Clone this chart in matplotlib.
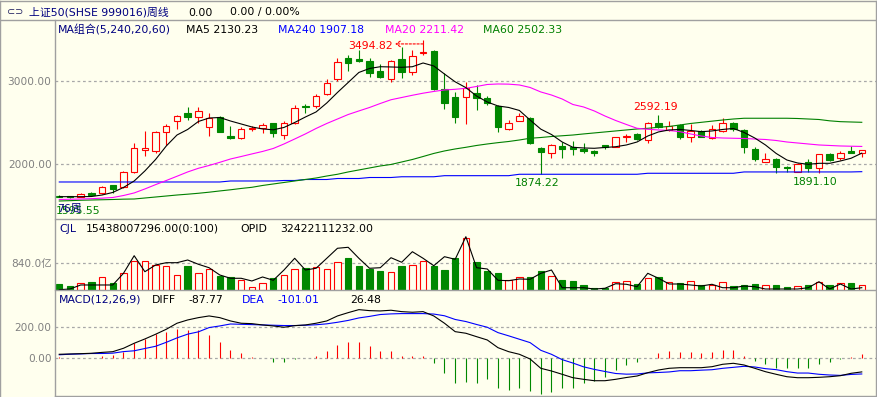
import numpy as np
import matplotlib.pyplot as plt
from matplotlib.patches import Rectangle
from matplotlib.lines import Line2D
from matplotlib.transforms import offset_copy

plt.rcParams['font.family'] = ['DejaVu Sans', 'Noto Sans CJK SC']

# weekly candles, 76 weeks
opens = [1618, 1612, 1602, 1647, 1654, 1743, 1719, 1907, 2169, 2160,
         2382, 2522, 2611, 2563, 2442, 2570, 2337, 2310, 2418, 2437,
         2490, 2349, 2498, 2699, 2699, 2844, 3024, 3274, 3265, 3245,
         3121, 3024, 3262, 3112, 3334, 3365, 2900, 2804, 2804, 2859,
         2792, 2699, 2422, 2522, 2551, 2193, 2129, 2217, 2208, 2184,
         2160, 2225, 2208, 2322, 2358, 2289, 2490, 2410, 2470, 2329,
         2398, 2310, 2401, 2490, 2410, 2181, 2028, 2060, 1967, 1907,
         2020, 1948, 2121, 2069, 2157, 2136]
highs = [1630, 1618, 1654, 1659, 1735, 1747, 1916, 2249, 2398, 2401,
         2482, 2590, 2690, 2683, 2611, 2582, 2458, 2449, 2458, 2490,
         2498, 2522, 2711, 2723, 2840, 3021, 3274, 3313, 3374, 3274,
         3201, 3253, 3406, 3374, 3494.82, 3374, 3093, 2871, 2992, 2952,
         2819, 2711, 2530, 2611, 2563, 2208, 2240, 2269, 2277, 2249,
         2169, 2230, 2329, 2362, 2370, 2510, 2592.19, 2518, 2478, 2478,
         2410, 2470, 2551, 2506, 2418, 2201, 2129, 2069, 1980, 2016,
         2060, 2120, 2136, 2157, 2217, 2168]
lows = [1598, 1595.55, 1598, 1614, 1638, 1654, 1707, 1895, 2096, 2129,
        2225, 2422, 2530, 2490, 2337, 2385, 2301, 2305, 2401, 2377,
        2329, 2305, 2482, 2618, 2671, 2831, 3000, 3124, 3233, 3045,
        3040, 2992, 3033, 3072, 3313, 2892, 2663, 2498, 2482, 2651,
        2711, 2389, 2410, 2518, 2241, 1874.22, 2069, 2076, 2108, 2136,
        2096, 2181, 2205, 2261, 2289, 2257, 2430, 2401, 2301, 2269,
        2322, 2301, 2389, 2401, 2136, 2040, 2020, 1895, 1907, 1900,
        1907, 1891.10, 2040, 2048, 2129, 2088]
closes = [1602, 1600, 1638, 1630, 1719, 1702, 1900, 2189, 2189, 2382,
          2462, 2578, 2563, 2642, 2558, 2389, 2310, 2418, 2437, 2466,
          2370, 2490, 2671, 2683, 2819, 2980, 3233, 3221, 3245, 3100,
          3052, 3245, 3105, 3305, 3353, 2900, 2731, 2570, 2912, 2799,
          2731, 2449, 2498, 2578, 2249, 2148, 2233, 2184, 2184, 2153,
          2129, 2208, 2322, 2337, 2301, 2490, 2442, 2462, 2329, 2398,
          2329, 2418, 2490, 2418, 2208, 2057, 2057, 1960, 1952, 2000,
          1948, 2117, 2048, 2129, 2136, 2165]

ma5 = [1606, 1606, 1606, 1608, 1626, 1657, 1717, 1795, 1916, 2054,
       2217, 2349, 2416, 2512, 2554, 2560, 2518, 2482, 2446, 2422,
       2412, 2440, 2500, 2566, 2627, 2735, 2862, 2982, 3103, 3151,
       3172, 3169, 3165, 3172, 3217, 3181, 3084, 2990, 2920, 2819,
       2747, 2699, 2681, 2645, 2530, 2420, 2355, 2265, 2201, 2193,
       2189, 2199, 2208, 2229, 2265, 2337, 2386, 2410, 2416, 2404,
       2389, 2398, 2416, 2428, 2380, 2313, 2229, 2127, 2048, 2012,
       1996, 2008, 2008, 2036, 2069, 2130.23]
ma20 = [1572, 1575, 1578, 1582, 1588, 1596, 1620, 1651, 1699, 1751,
        1801, 1852, 1904, 1948, 1982, 2020, 2060, 2090, 2121, 2151,
        2187, 2241, 2301, 2362, 2428, 2488, 2542, 2596, 2639, 2681,
        2729, 2774, 2801, 2828, 2853, 2874, 2892, 2900, 2912, 2934,
        2958, 2964, 2962, 2952, 2922, 2868, 2831, 2783, 2717, 2687,
        2639, 2578, 2524, 2476, 2430, 2418, 2410, 2404, 2389, 2362,
        2337, 2319, 2313, 2310, 2307, 2301, 2295, 2283, 2265, 2253,
        2241, 2229, 2223, 2217, 2214, 2211.42]
ma60 = [1554, 1558, 1563, 1566, 1569, 1572, 1576, 1578, 1590, 1602,
        1614, 1626, 1636, 1647, 1660, 1675, 1689, 1705, 1719, 1741,
        1759, 1777, 1795, 1813, 1831, 1855, 1876, 1904, 1928, 1952,
        1976, 1994, 2024, 2054, 2090, 2127, 2157, 2181, 2201, 2223,
        2241, 2257, 2271, 2289, 2310, 2319, 2331, 2340, 2349, 2362,
        2374, 2386, 2398, 2410, 2422, 2430, 2442, 2452, 2470, 2488,
        2502, 2516, 2530, 2542, 2551, 2551, 2551, 2551, 2551, 2548,
        2542, 2536, 2520, 2510, 2506, 2502.33]
ma240 = [1783, 1783, 1783, 1783, 1783, 1783, 1783, 1783, 1783, 1783,
         1783, 1783, 1783, 1783, 1783, 1783, 1795, 1795, 1795, 1795,
         1795, 1801, 1801, 1813, 1813, 1813, 1825, 1825, 1825, 1837,
         1837, 1837, 1846, 1846, 1846, 1846, 1859, 1859, 1859, 1859,
         1859, 1859, 1859, 1876, 1876, 1876, 1876, 1876, 1876, 1876,
         1876, 1876, 1876, 1876, 1876, 1888, 1888, 1888, 1888, 1888,
         1888, 1888, 1888, 1888, 1904, 1904, 1904, 1904, 1904, 1904,
         1904, 1904, 1904, 1904, 1904, 1907.18]

# volume in 亿, plus the OPID line drawn over it
volume = [189, 126, 220, 252, 410, 220, 536, 924, 914, 798,
          756, 473, 756, 536, 672, 441, 410, 315, 95, 220,
          378, 473, 662, 693, 725, 662, 882, 1008, 756, 672,
          599, 567, 756, 788, 914, 756, 630, 1008, 1628, 882,
          599, 536, 305, 399, 410, 599, 441, 315, 284, 158,
          63, 63, 242, 273, 189, 378, 410, 242, 220, 273,
          158, 158, 242, 126, 158, 189, 158, 158, 95, 126,
          158, 242, 158, 220, 220, 154.38]
opid = [10, 31, 158, 158, 158, 158, 526, 1080, 576, 788,
        860, 860, 945, 810, 702, 473, 369, 369, 284, 410,
        306, 630, 999, 630, 684, 999, 1314, 1345, 999, 684,
        702, 1017, 873, 1206, 999, 765, 1049, 967, 1679, 702,
        662, 306, 293, 347, 337, 526, 630, 72, 72, 72,
        31, 54, 198, 180, 104, 526, 369, 189, 189, 158,
        126, 180, 72, 72, 126, 104, 31, 31, 31, 31,
        72, 261, 31, 189, 31, 72]

diff = [25.8, 27.7, 29.7, 32.3, 38, 42.6, 64.5, 96.8, 124.5, 154.8,
        187, 225.8, 247, 261.9, 272.8, 261.9, 240.6, 225.8, 223.2, 214.8,
        208.3, 200, 210.3, 214.8, 225.8, 240.6, 272.8, 294.1, 313.5, 307,
        305, 309.6, 300.6, 296.7, 300.6, 272.8, 225.8, 171.6, 161.3, 139.3,
        118, 68.4, 42.6, 25.8, -4.5, -64.5, -81.9, -103.2, -125.1, -135.5,
        -144.5, -144.5, -135.5, -123.8, -114.2, -92.9, -75.5, -64.5, -60.6, -60.6,
        -60.6, -54.2, -38.7, -32.3, -43.2, -64.5, -86.4, -103.2, -118.7, -125.1,
        -125.1, -122.6, -118.7, -112.2, -96.8, -87.77]
dea = [22.6, 26.2, 28.2, 30.8, 31, 33, 43, 48.3, 63, 77.3,
       103, 131.3, 155.5, 170.4, 197.8, 208.4, 221, 219, 217, 215,
       213, 211, 211, 213, 216, 222, 232, 244, 260, 270,
       282, 286, 288, 288, 288, 285, 274, 250.1, 236.8, 217.8,
       200, 165.4, 144.6, 122.8, 101, 51.5, 25.6, -8.7, -30.6, -55,
       -71.5, -85, -98, -102.3, -101.2, -93.9, -91.5, -88, -80.1, -80.1,
       -76.6, -73.7, -64.7, -58.3, -51.7, -56, -66.9, -73.2, -86.2, -95.1,
       -95.1, -103.1, -107.7, -110.2, -104, -101.01]
macd = [6.4, 3, 3, 3, 14, 19, 43, 97, 123, 155,
        168, 189, 183, 183, 150, 107, 54, 32, 6.5, 2,
        -22, -22, -4, 1, 17, 47, 86, 107, 107, 81,
        47, 47, 17, 17, 17, -32, -97, -157, -151, -157,
        -134, -194, -204, -194, -211, -232, -215, -189, -189, -161,
        -146, -119, -75, -43, -26, 2, 32, 47, 39, 39,
        32, 39, 52, 52, 17, -17, -39, -60, -65, -60,
        -60, -39, -22, -4, 6, 26.48]

peak_idx = [34, 56]
trough_idx = [1, 45, 71]

W, H = 878, 397
BG = '#FFFFEE'
RED = '#FF0000'
GREEN = '#008800'
NAVY = '#000080'
GRID = '#A8A8A8'
FS = 7.8
LW = 0.8

fig = plt.figure(figsize=(W / 100, H / 100), dpi=100, facecolor=BG)


def px_box(x0, y0, x1, y1):
    return [x0 / W, 1 - y1 / H, (x1 - x0) / W, (y1 - y0) / H]


def ftext(x, y, s, color='black', size=FS):
    fig.text(x / W, 1 - y / H, s, color=color, fontsize=size, va='center', ha='left')


def fline(x0, y0, x1, y1, color='#A0A0A0', lw=1.0):
    fig.add_artist(Line2D([x0 / W, x1 / W], [1 - y0 / H, 1 - y1 / H], color=color, lw=lw,
                          transform=fig.transFigure))


ax = fig.add_axes(px_box(55, 20, 876, 218), facecolor=BG)
axv = fig.add_axes(px_box(55, 219, 876, 290), facecolor=BG)
axm = fig.add_axes(px_box(55, 290, 876, 396), facecolor=BG)

n = len(closes)
x = np.arange(n)
for a in (ax, axv, axm):
    a.set_xlim(-0.40, 76.33)
    a.set_xticks([])
    for s in a.spines.values():
        s.set_visible(False)
    a.tick_params(axis='y', length=0, pad=2.5, labelsize=7.6, labelcolor='#808080')

# main panel
ax.set_ylim(1349, 3735)
ax.set_yticks([2000, 3000])
ax.set_yticklabels(['2000.00', '3000.00'])
for v in (2000, 3000):
    ax.axhline(v, color=GRID, lw=0.9, ls=(0, (2.2, 2.2)), zorder=1)

w = 0.6
for i in range(n):
    o, h, l, c = opens[i], highs[i], lows[i], closes[i]
    if c >= o:
        ax.vlines(i, c, h, color=RED, lw=LW, zorder=2)
        ax.vlines(i, l, o, color=RED, lw=LW, zorder=2)
        ax.add_patch(Rectangle((i - w / 2, o), w, c - o, facecolor=BG, edgecolor=RED, lw=LW, zorder=2))
    else:
        ax.vlines(i, l, h, color=GREEN, lw=LW, zorder=2)
        ax.add_patch(Rectangle((i - w / 2, c), w, o - c, facecolor=GREEN, edgecolor=GREEN, lw=LW, zorder=2))

ax.plot(x, ma240, color='#0000FF', lw=LW, zorder=3)
ax.plot(x, ma60, color='#008000', lw=LW, zorder=3)
ax.plot(x, ma20, color='#FF00FF', lw=LW, zorder=3)
ax.plot(x, ma5, color='black', lw=LW, zorder=3)

# high / low marks
for i in peak_idx:
    if i == int(np.argmax(highs)):
        ax.annotate(f'{highs[i]:.2f}', xy=(i, highs[i]), xytext=(-30, -6), textcoords='offset pixels',
                    ha='right', va='center', color=RED, fontsize=FS)
        head = offset_copy(ax.transData, fig=fig, x=-28, y=-4, units='dots')
        tail = offset_copy(ax.transData, fig=fig, x=0, y=-4, units='dots')
        ax.annotate('', xy=(i, highs[i]), xycoords=head, xytext=(i, highs[i]), textcoords=tail,
                    arrowprops=dict(arrowstyle='->,head_length=0.3,head_width=0.2', color=RED,
                                    lw=0.8, ls=(0, (2, 1.5)), shrinkA=0, shrinkB=0))
    else:
        ax.annotate(f'{highs[i]:.2f}', xy=(i, highs[i]), xytext=(-3, 8), textcoords='offset pixels',
                    ha='center', va='center', color=RED, fontsize=FS)
for i in trough_idx:
    if i == 1:
        ax.annotate(f'{lows[i]:.2f}', xy=(i, lows[i]), xytext=(-14, -13), textcoords='offset pixels',
                    ha='left', va='center', color='#008000', fontsize=FS, zorder=4)
    else:
        ax.annotate(f'{lows[i]:.2f}', xy=(i, lows[i]), xytext=(-4, -9), textcoords='offset pixels',
                    ha='center', va='center', color='#008000', fontsize=FS)
ax.text(0.002, 0.045, '76周', transform=ax.transAxes, color=NAVY, fontsize=FS,
        ha='left', va='center', zorder=5)

# volume panel
axv.set_ylim(0, 2236)
axv.set_yticks([840])
axv.set_yticklabels(['840.0亿'])
axv.axhline(840, color=GRID, lw=0.9, ls=(0, (2.2, 2.2)), zorder=1)
up = [closes[i] >= opens[i] for i in range(n)]
axv.bar(x, volume, width=w, color=[BG if u else GREEN for u in up],
        edgecolor=[RED if u else GREEN for u in up], lw=LW, zorder=2)
axv.plot(x, opid, color='black', lw=LW, zorder=3)

# MACD panel
axm.set_ylim(-243, 440)
axm.set_yticks([0, 200])
axm.set_yticklabels(['0.00', '200.00'])
for v in (0, 200):
    axm.axhline(v, color=GRID, lw=0.9, ls=(0, (2.2, 2.2)), zorder=1)
axm.vlines(x, 0, macd, colors=[RED if m > 0 else GREEN for m in macd], lw=LW, zorder=2)
axm.plot(x, dea, color='#0000FF', lw=LW, zorder=3)
axm.plot(x, diff, color='black', lw=LW, zorder=3)

# frame and separators
fline(0, 1, W, 1)
fline(0.5, 1, 0.5, H)
fline(W - 1.5, 1, W - 1.5, H)
fline(0, 19.5, W, 19.5)
fline(55, 19.5, 55, 396)
fline(55, 218.5, W, 218.5)
fline(55, 290, W, 290)
fline(55, 396, W, 396)

# title bar
ftext(7, 12.5, '⊂⊃', color='#202060', size=7)
ftext(29, 12.5, '上证50(SHSE 999016)周线', color=NAVY)
ftext(188, 12.5, '0.00')
ftext(230, 12.5, '0.00 / 0.00%')

# legend rows
ftext(58, 30, 'MA组合(5,240,20,60)', color=NAVY)
ftext(186, 30, f'MA5 {ma5[-1]:.2f}')
ftext(278, 30, f'MA240 {ma240[-1]:.2f}', color='#0000FF')
ftext(385, 30, f'MA20 {ma20[-1]:.2f}', color='#FF00FF')
ftext(483, 30, f'MA60 {ma60[-1]:.2f}', color='#008000')

ftext(59, 229, 'CJL', color=NAVY)
ftext(86, 229, '15438007296.00(0:100)')
ftext(240, 229, 'OPID')
ftext(280, 229, '32422111232.00')

ftext(59, 300, 'MACD(12,26,9)', color=NAVY)
ftext(152, 300, 'DIFF')
ftext(188, 300, f'{diff[-1]:.2f}')
ftext(242, 300, 'DEA', color='#0000FF')
ftext(277, 300, f'{dea[-1]:.2f}', color='#0000FF')
ftext(350, 300, f'{macd[-1]:.2f}')

fig.savefig('out.png', dpi=100, facecolor=BG)
